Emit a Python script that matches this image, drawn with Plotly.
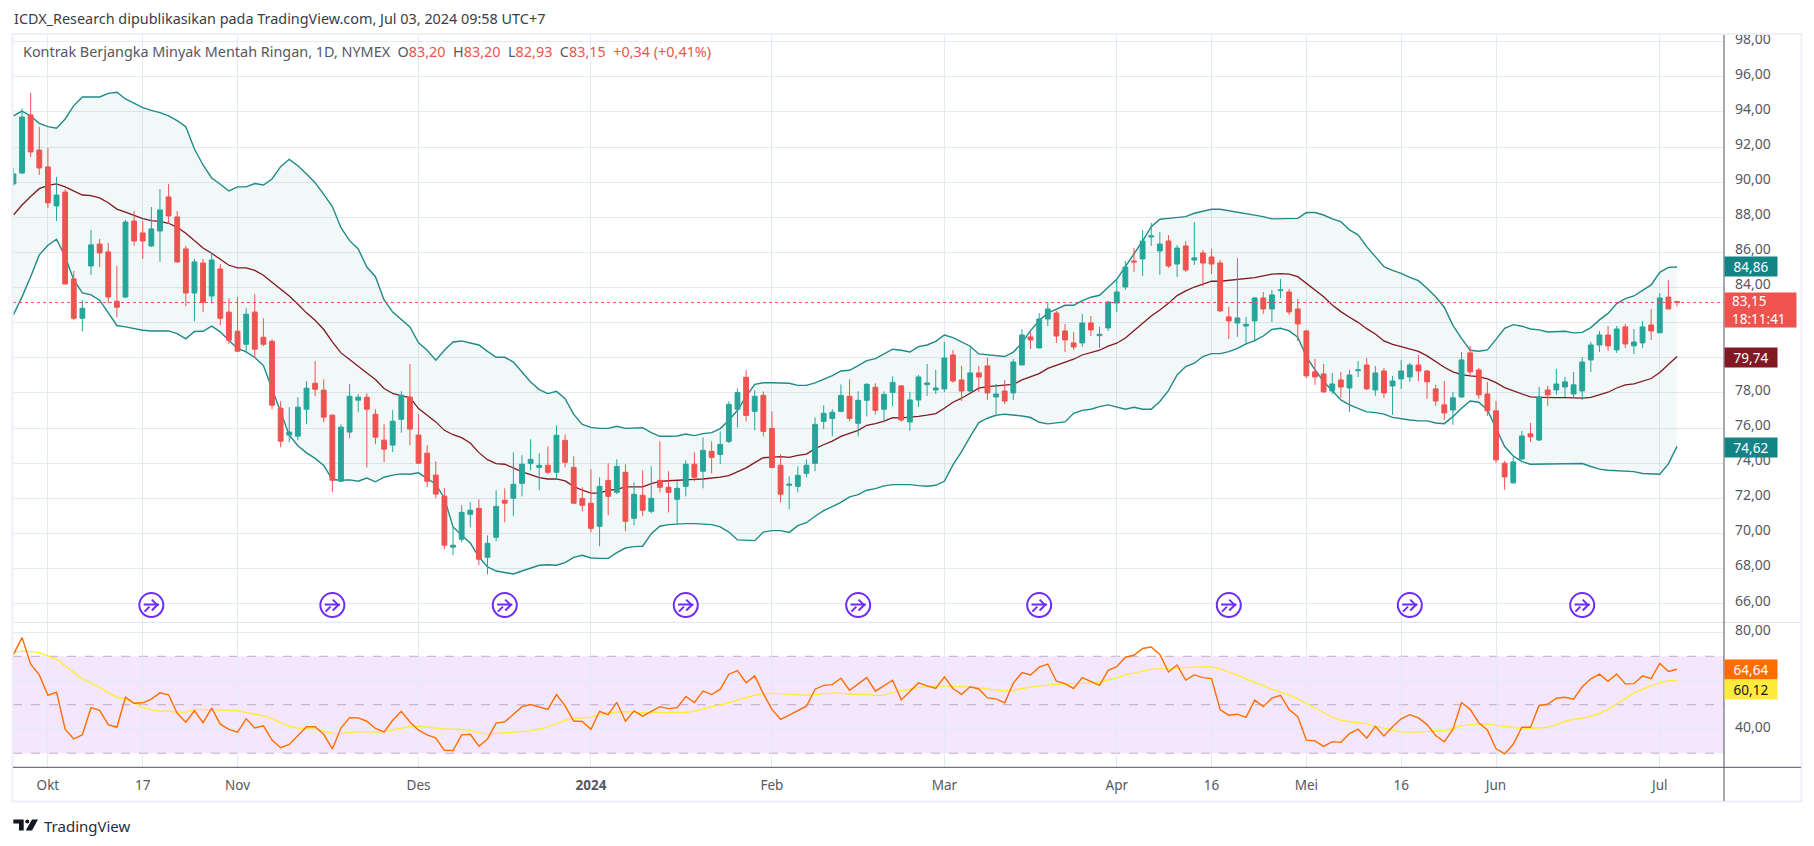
import plotly.graph_objects as go

W = 1814
H = 846

open_ = [
    89.90, 90.52, 93.83, 91.83, 90.87, 88.65, 89.44, 84.49, 82.25, 85.23,
    86.48, 86.03, 83.22, 83.46, 87.79, 87.11, 86.37, 87.22, 89.16, 88.02,
    86.2, 83.69, 85.4, 83.52, 85.06, 82.6, 81.51, 80.77, 82.6, 81.17,
    80.94, 77.13, 75.6, 75.54, 77.07, 78.55, 78.16, 76.73, 72.97, 75.77,
    77.59, 77.76, 76.79, 75.31, 75.03, 76.5, 77.76, 75.6, 74.57, 73.32,
    72.12, 69.22, 69.67, 71.09, 71.43, 68.64, 69.78, 71.89, 72.0, 72.85,
    73.99, 73.76, 73.88, 73.48, 75.3, 73.76, 72.0, 71.72, 70.41, 73.02,
    72.34, 73.48, 70.86, 72.17, 71.26, 73.02, 72.63, 71.94, 72.68, 73.94,
    73.54, 74.68, 74.5, 75.24, 77.07, 78.89, 76.95, 77.86, 75.98, 73.88,
    72.74, 72.68, 73.42, 73.99, 76.38, 76.55, 76.95, 77.81, 76.27, 77.58,
    78.32, 77.07, 78.03, 78.4, 76.35, 77.6, 78.47, 78.17, 78.23, 80.16,
    78.74, 78.11, 79.14, 79.54, 77.77, 78.11, 78.0, 79.59, 81.19, 80.56,
    82.21, 82.55, 81.53, 80.85, 80.85, 81.98, 81.26, 81.7, 83.12, 84.03,
    85.51, 85.63, 86.88, 86.08, 86.65, 85.34, 86.37, 85.57, 85.97, 85.74,
    85.4, 82.33, 81.98, 81.81, 82.1, 83.41, 82.78, 83.83, 83.75, 82.78,
    81.53, 79.2, 79.08, 78.11, 78.74, 78.28, 79.27, 79.59, 78.17, 79.25,
    78.4, 78.8, 78.91, 79.59, 79.25, 78.23, 77.32, 77.03, 77.77, 80.28,
    79.31, 77.94, 76.98, 74.0, 72.88, 74.24, 75.67, 75.32, 78.17, 78.17,
    78.34, 77.94, 78.11, 79.88, 80.73, 81.3, 80.45, 81.76, 80.68, 80.85,
    81.87, 81.42, 83.46, 83.2,
]
high = [
    90.81, 94.2, 95.08, 93.14, 91.95, 90.3, 89.6, 84.94, 83.28, 87.28,
    86.77, 86.54, 85.23, 87.85, 88.36, 87.79, 88.59, 89.61, 89.9, 88.36,
    86.37, 85.63, 85.63, 85.97, 85.34, 83.39, 83.45, 82.82, 83.62, 82.25,
    81.06, 77.53, 77.19, 77.76, 78.67, 79.81, 78.78, 76.79, 76.22, 78.5,
    77.93, 77.98, 77.07, 76.22, 77.02, 78.1, 79.64, 76.79, 75.03, 74.11,
    72.58, 70.36, 71.6, 71.77, 71.94, 69.89, 72.46, 72.57, 74.62, 74.45,
    75.36, 74.56, 74.96, 76.16, 75.64, 74.39, 72.63, 73.65, 73.2, 73.99,
    74.22, 73.94, 72.91, 73.59, 73.82, 75.24, 73.54, 72.97, 74.16, 74.62,
    75.47, 75.24, 75.81, 77.52, 78.26, 79.29, 78.15, 78.09, 76.95, 74.5,
    73.25, 73.82, 74.22, 76.61, 77.29, 77.07, 78.49, 78.77, 78.09, 78.55,
    78.55, 78.09, 78.94, 78.45, 78.06, 79.02, 79.65, 79.31, 80.9, 80.45,
    79.54, 80.68, 79.54, 79.99, 78.51, 78.74, 79.94, 81.64, 81.47, 82.55,
    83.18, 82.67, 81.93, 81.47, 82.5, 82.38, 81.76, 83.24, 84.43, 85.51,
    86.25, 87.28, 87.68, 87.17, 86.99, 86.42, 86.65, 87.73, 86.14, 86.2,
    85.57, 82.9, 85.68, 82.33, 83.46, 83.75, 83.86, 84.49, 83.92, 83.35,
    81.59, 79.94, 79.65, 79.14, 79.2, 79.31, 79.82, 79.99, 79.54, 79.42,
    78.97, 79.88, 79.71, 80.16, 79.31, 78.46, 78.68, 78.06, 80.33, 80.68,
    79.42, 78.63, 77.54, 74.13, 74.36, 75.84, 76.29, 78.34, 78.4, 79.37,
    78.91, 79.2, 80.05, 80.9, 81.53, 81.81, 81.81, 81.93, 81.64, 82.1,
    82.78, 83.69, 84.43, 83.2,
]
low = [
    89.8, 90.47, 91.43, 90.41, 88.53, 87.79, 84.2, 82.14, 81.51, 84.72,
    85.17, 83.11, 82.31, 83.41, 86.37, 85.63, 86.31, 85.46, 87.62, 85.4,
    82.94, 82.08, 82.6, 83.11, 81.86, 80.77, 80.32, 80.26, 80.03, 80.66,
    77.07, 74.91, 75.2, 75.31, 76.22, 77.81, 76.33, 72.35, 72.92, 75.43,
    76.9, 73.75, 75.08, 74.06, 74.63, 75.74, 75.03, 73.94, 72.63, 72.0,
    69.1, 68.76, 69.5, 70.35, 68.19, 67.67, 69.55, 70.63, 70.98, 72.11,
    73.59, 72.46, 73.37, 73.08, 73.76, 71.72, 71.26, 70.06, 69.27, 71.03,
    72.23, 70.12, 70.46, 70.98, 71.15, 72.34, 71.2, 70.52, 72.11, 72.97,
    72.57, 73.42, 73.94, 75.13, 76.04, 76.38, 75.87, 75.53, 73.71, 71.77,
    71.37, 72.34, 73.2, 73.54, 75.93, 75.53, 76.9, 76.38, 75.53, 76.67,
    76.78, 76.33, 77.24, 76.35, 75.84, 77.2, 77.83, 77.94, 78.06, 78.57,
    77.54, 78.06, 78.06, 77.6, 76.8, 77.37, 77.6, 79.59, 80.5, 80.56,
    81.81, 80.85, 80.33, 80.45, 80.62, 81.24, 80.56, 81.53, 82.61, 83.86,
    84.89, 84.66, 86.37, 84.72, 85.12, 84.6, 84.89, 85.29, 84.09, 84.77,
    82.61, 81.07, 81.19, 80.73, 80.9, 82.5, 82.04, 83.41, 82.44, 80.96,
    78.85, 78.46, 78.0, 77.94, 77.72, 76.92, 78.91, 78.17, 77.83, 77.72,
    76.75, 78.23, 78.63, 78.68, 77.66, 77.26, 76.46, 76.18, 77.72, 78.97,
    77.66, 76.69, 74.0, 72.48, 72.82, 74.19, 75.21, 75.27, 77.26, 77.89,
    77.77, 77.77, 77.6, 79.2, 80.33, 80.39, 80.28, 80.56, 80.22, 80.56,
    81.02, 81.42, 82.78, 82.93,
]
close = [
    90.47, 93.71, 91.72, 90.81, 88.82, 89.27, 84.2, 82.25, 82.82, 86.43,
    85.97, 83.46, 82.88, 87.73, 86.65, 86.65, 87.34, 88.42, 88.08, 85.46,
    83.69, 85.46, 83.17, 85.57, 82.25, 81.0, 80.38, 82.48, 80.49, 80.77,
    77.3, 75.25, 75.77, 77.19, 78.27, 78.21, 76.62, 73.03, 76.05, 77.81,
    77.76, 77.07, 75.48, 74.8, 76.39, 77.87, 75.94, 74.0, 72.97, 72.24,
    69.33, 69.33, 71.2, 71.32, 68.53, 69.44, 71.54, 71.72, 72.8, 73.94,
    74.22, 73.88, 73.48, 75.59, 74.05, 71.72, 71.6, 70.29, 72.68, 72.11,
    73.82, 70.69, 72.23, 71.32, 72.0, 72.63, 72.34, 72.57, 73.94, 73.2,
    74.73, 74.33, 75.07, 77.35, 78.03, 76.72, 77.81, 75.81, 73.76, 72.23,
    72.8, 73.31, 73.88, 76.21, 76.84, 76.9, 77.86, 76.55, 77.58, 78.49,
    77.01, 77.92, 78.6, 76.46, 77.6, 78.91, 78.57, 78.28, 79.99, 78.68,
    78.11, 79.14, 78.91, 78.0, 77.94, 77.54, 79.76, 81.3, 81.02, 82.21,
    82.78, 81.24, 81.02, 80.62, 81.98, 81.59, 81.34, 83.18, 83.75, 85.17,
    85.46, 86.65, 86.94, 86.48, 85.23, 86.25, 85.0, 85.69, 85.4, 85.34,
    82.67, 82.1, 82.27, 81.91, 83.41, 82.78, 83.58, 83.86, 82.61, 81.93,
    78.97, 78.91, 78.06, 78.51, 78.34, 79.02, 79.31, 78.23, 79.14, 78.0,
    78.68, 79.25, 79.59, 79.25, 78.63, 77.54, 76.86, 77.72, 79.88, 79.2,
    77.89, 76.98, 74.19, 73.22, 74.07, 75.55, 75.5, 77.77, 77.89, 78.51,
    78.63, 78.46, 79.76, 80.73, 81.3, 80.68, 81.64, 80.79, 80.9, 81.76,
    81.53, 83.41, 82.78, 83.15,
]

# Bollinger bands
bb_upper = [
    93.77, 94.05, 93.77, 93.35, 93.16, 93.07, 93.6, 94.36, 94.85, 94.85,
    94.85, 95.06, 95.12, 94.74, 94.49, 94.24, 94.09, 93.96, 93.77, 93.5,
    93.16, 91.89, 90.98, 90.24, 89.88, 89.5, 89.73, 89.73, 89.92, 89.84,
    90.18, 90.88, 91.3, 90.94, 90.47, 89.97, 89.31, 88.61, 87.41, 86.67,
    86.2, 85.17, 84.62, 83.29, 82.6, 82.18, 81.76, 80.85, 80.43, 79.86,
    80.43, 80.9, 80.96, 80.84, 80.73, 80.37, 80.03, 80.03, 79.76, 79.19,
    78.62, 78.19, 77.96, 78.09, 77.67, 76.78, 76.21, 76.04, 75.98, 75.98,
    76.1, 75.98, 76.02, 76.02, 75.74, 75.53, 75.53, 75.55, 75.66, 75.57,
    75.68, 75.74, 75.97, 76.44, 77.01, 77.81, 78.49, 78.58, 78.58, 78.58,
    78.55, 78.43, 78.43, 78.57, 78.77, 78.98, 79.25, 79.29, 79.55, 79.84,
    79.95, 80.2, 80.49, 80.43, 80.33, 80.64, 80.73, 80.94, 81.3, 81.15,
    80.9, 80.66, 80.22, 80.16, 80.13, 80.07, 80.32, 80.85, 81.55, 82.12,
    82.54, 82.76, 82.99, 82.99, 83.26, 83.45, 83.56, 84.02, 84.47, 85.19,
    85.91, 86.65, 87.47, 87.89, 87.94, 88.0, 88.04, 88.23, 88.34, 88.46,
    88.46, 88.38, 88.32, 88.21, 88.15, 88.04, 87.91, 87.91, 87.92, 87.94,
    88.27, 88.27, 88.13, 87.91, 87.75, 87.28, 87.0, 86.33, 85.76, 85.19,
    84.98, 84.81, 84.58, 84.39, 83.96, 83.48, 82.88, 81.85, 81.11, 80.43,
    80.37, 80.45, 81.05, 81.68, 81.89, 81.8, 81.64, 81.59, 81.47, 81.51,
    81.51, 81.42, 81.45, 81.72, 82.16, 82.53, 83.09, 83.37, 83.52, 83.84,
    84.15, 84.87, 85.15, 85.17,
]
bb_mid = [
    88.13, 88.7, 89.18, 89.63, 89.82, 89.9, 89.73, 89.5, 89.27, 89.23,
    89.1, 88.83, 88.47, 88.3, 88.13, 87.92, 87.81, 87.77, 87.66, 87.43,
    87.09, 86.65, 86.25, 85.95, 85.63, 85.27, 85.12, 85.12, 84.98, 84.7,
    84.3, 83.9, 83.52, 83.05, 82.56, 82.14, 81.61, 80.91, 80.28, 79.9,
    79.54, 79.14, 78.76, 78.25, 77.97, 77.83, 77.74, 77.11, 76.73, 76.35,
    75.87, 75.62, 75.45, 75.15, 74.6, 74.2, 73.97, 73.94, 73.73, 73.5,
    73.35, 73.18, 73.1, 73.1, 72.99, 72.68, 72.46, 72.3, 72.3, 72.46,
    72.51, 72.65, 72.65, 72.65, 72.84, 72.97, 73.0, 73.04, 73.08, 73.08,
    73.1, 73.14, 73.21, 73.29, 73.5, 73.73, 74.03, 74.31, 74.35, 74.37,
    74.33, 74.45, 74.52, 74.83, 75.05, 75.26, 75.53, 75.68, 75.87, 76.16,
    76.25, 76.4, 76.59, 76.58, 76.61, 76.67, 76.73, 76.82, 77.13, 77.47,
    77.7, 77.98, 78.27, 78.36, 78.4, 78.42, 78.49, 78.74, 78.93, 79.1,
    79.4, 79.57, 79.71, 79.92, 80.16, 80.3, 80.43, 80.66, 80.83, 81.13,
    81.55, 81.97, 82.38, 82.72, 83.1, 83.54, 83.81, 84.03, 84.2, 84.36,
    84.36, 84.41, 84.47, 84.51, 84.57, 84.66, 84.76, 84.79, 84.76, 84.62,
    84.24, 83.9, 83.48, 83.01, 82.63, 82.31, 82.02, 81.66, 81.36, 80.96,
    80.77, 80.64, 80.52, 80.37, 80.11, 79.78, 79.46, 79.2, 79.04, 78.97,
    78.93, 78.8, 78.59, 78.3, 78.11, 77.92, 77.77, 77.75, 77.72, 77.73,
    77.73, 77.7, 77.7, 77.75, 77.89, 78.04, 78.28, 78.46, 78.51, 78.65,
    78.82, 79.16, 79.59, 80.07,
]
bb_lower = [
    82.46, 83.47, 84.62, 85.86, 86.41, 86.75, 85.76, 84.43, 83.7, 83.58,
    83.28, 82.56, 81.84, 81.76, 81.65, 81.57, 81.53, 81.53, 81.53, 81.38,
    81.08, 81.5, 81.51, 81.8, 81.48, 80.99, 80.53, 80.34, 80.02, 79.56,
    78.25, 76.92, 75.59, 74.99, 74.59, 74.27, 73.87, 73.07, 73.03, 73.05,
    72.97, 73.15, 72.94, 73.2, 73.32, 73.39, 73.37, 73.45, 73.1, 72.8,
    71.99, 70.37, 69.89, 69.46, 68.66, 68.09, 67.86, 67.77, 67.69, 67.86,
    68.03, 68.19, 68.22, 68.19, 68.34, 68.64, 68.76, 68.6, 68.58, 68.58,
    68.91, 69.17, 69.25, 69.27, 69.99, 70.41, 70.5, 70.54, 70.56, 70.56,
    70.52, 70.5, 70.37, 70.08, 69.63, 69.63, 69.59, 70.08, 70.16, 70.16,
    70.06, 70.44, 70.61, 70.98, 71.3, 71.53, 71.77, 72.08, 72.21, 72.46,
    72.55, 72.71, 72.78, 72.78, 72.78, 72.72, 72.69, 72.74, 72.97, 73.9,
    74.66, 75.51, 76.31, 76.56, 76.73, 76.79, 76.75, 76.69, 76.6, 76.33,
    76.24, 76.29, 76.35, 76.84, 77.01, 77.07, 77.22, 77.32, 77.2, 77.07,
    77.18, 77.07, 77.07, 77.51, 78.13, 79.02, 79.5, 79.69, 80.07, 80.24,
    80.24, 80.35, 80.54, 80.79, 80.98, 81.24, 81.61, 81.68, 81.53, 81.17,
    80.07, 79.31, 78.65, 78.13, 77.6, 77.32, 77.13, 76.92, 76.88, 76.79,
    76.61, 76.52, 76.46, 76.41, 76.41, 76.29, 76.25, 76.65, 77.13, 77.54,
    77.47, 77.03, 75.99, 74.95, 74.41, 74.09, 73.94, 73.94, 73.96, 73.98,
    73.98, 73.98, 73.98, 73.81, 73.66, 73.6, 73.56, 73.56, 73.52, 73.41,
    73.41, 73.37, 73.96, 74.96,
]

# RSI pane
rsi = [
    70.8, 77.7, 66.7, 62.3, 53.9, 55.2, 39.9, 35.9, 37.6, 48.8,
    47.7, 41.8, 40.7, 53.1, 50.6, 50.8, 52.3, 54.9, 54.1, 46.5,
    42.8, 47.5, 42.6, 48.6, 42.0, 39.8, 38.7, 44.2, 40.4, 41.3,
    35.4, 32.3, 33.6, 37.4, 40.9, 40.9, 37.8, 31.8, 40.4, 44.7,
    44.6, 43.2, 40.2, 38.8, 43.6, 47.3, 42.9, 39.5, 37.6, 36.2,
    31.2, 31.1, 37.6, 37.8, 32.9, 35.9, 42.4, 42.9, 46.2, 49.2,
    50.1, 49.1, 48.1, 54.2, 49.5, 43.3, 43.1, 39.9, 47.3,
    45.9, 51.0, 43.2, 47.5, 45.3, 47.3, 49.2, 48.4, 48.8, 53.4,
    50.9, 55.6, 54.2, 56.4, 62.6, 64.1, 59.1, 61.9, 54.6, 48.1,
    44.0, 45.7, 47.5, 49.4, 56.4, 58.0, 58.3, 60.9, 56.0, 58.7,
    61.2, 55.6, 58.0, 60.1, 52.0, 55.6, 59.0, 57.8, 56.7, 61.5,
    56.7, 54.3, 57.4, 56.5, 52.8, 52.4, 50.8, 58.9, 63.3, 62.3,
    65.5, 66.8, 59.7, 58.7, 56.7, 61.2, 59.6, 58.0, 64.2, 65.7,
    69.6, 70.4, 73.2, 73.8, 70.7, 63.5, 66.4, 60.2, 62.3,
    61.2, 60.8, 47.9, 45.7, 46.1, 44.8, 51.9, 49.2, 52.7, 53.9,
    48.0, 45.1, 35.4, 35.1, 32.8, 34.8, 34.5, 38.1, 39.9, 36.2,
    41.1, 37.1, 40.9, 44.2, 45.9, 44.6, 41.8, 37.3, 34.7, 39.9,
    50.9, 48.1, 42.6, 39.6, 31.8, 29.7, 33.7, 40.7, 40.7, 49.7,
    50.2, 52.7, 53.1, 52.3, 57.4, 60.7, 62.6, 59.7, 62.7, 58.6,
    58.7, 61.9, 60.8, 67.1, 63.7, 64.64,
]
rsi_ma = [
    71.5, 72.2, 71.9, 71.5, 70.1, 68.8, 66.0, 63.3, 60.7, 58.9,
    57.2, 55.0, 53.1, 52.3, 50.6, 48.8, 47.9, 47.3, 47.3, 46.9,
    47.0, 47.9, 48.1, 48.0, 47.7, 47.6, 47.5, 46.8, 46.1, 45.4,
    44.2, 42.5, 41.1, 40.4, 40.2, 39.9, 39.2, 38.1, 38.2, 38.7,
    38.9, 38.8, 38.8, 38.8, 39.6, 40.4, 41.0, 41.1, 40.9, 40.4,
    40.0, 40.0, 39.8, 39.5, 38.5, 38.0, 38.2, 38.4, 38.7, 38.8,
    39.2, 40.0, 40.9, 42.2, 43.6, 44.3, 44.6, 44.8, 46.1,
    46.6, 47.0, 47.2, 47.0, 46.6, 46.8, 46.8, 46.6, 46.5, 46.8,
    47.3, 48.3, 49.2, 49.9, 50.9, 52.0, 53.0, 53.9, 54.6, 54.8,
    54.5, 54.2, 54.2, 53.9, 54.2, 54.5, 54.9, 54.8, 54.3, 54.2,
    54.2, 53.8, 53.9, 55.2, 55.7, 56.4, 57.1, 57.6, 57.8, 57.8,
    57.6, 57.5, 57.2, 57.0, 56.5, 56.1, 55.7, 56.1, 56.8, 57.2,
    57.8, 58.3, 58.5, 58.5, 58.6, 59.0, 59.0, 59.3, 60.1, 61.1,
    62.3, 63.1, 64.0, 64.6, 64.8, 64.8, 65.1, 65.3, 65.6,
    65.7, 65.6, 64.8, 63.5, 62.3, 60.7, 59.4, 57.9, 56.4, 55.3,
    54.1, 52.4, 50.6, 48.6, 46.8, 44.8, 43.6, 43.1, 42.6, 42.1,
    41.1, 40.3, 39.5, 38.8, 38.7, 38.7, 38.9, 39.3, 39.3, 40.2,
    41.3, 41.8, 42.0, 42.1, 41.5, 41.0, 40.4, 40.2, 40.2, 40.3,
    40.7, 41.8, 43.2, 44.0, 44.4, 45.3, 46.5, 48.1, 50.3, 52.7,
    54.8, 56.3, 57.9, 59.0, 59.8, 60.12,
]

# bars with an economic-event marker, and the level they sit at
event_bars = [16, 37, 57, 78, 98, 119, 141, 162, 182]
event_level = [65.92] * len(event_bars)

grid_ticks = [66, 68, 70, 72, 74, 76, 78, 80, 82, 84, 86, 88, 90, 92, 94, 96, 98]
# 80 and 82 are hidden behind the value tags on the scale
price_ticks = [66, 68, 70, 72, 74, 76, 78, 84, 86, 88, 90, 92, 94, 96, 98]
price_labels = [f"{v},00" for v in price_ticks]
rsi_grid = [40, 60, 80]
rsi_ticks = [40, 80]
rsi_labels = ["40,00", "80,00"]
date_bars = [4, 15, 26, 47, 67, 88, 108, 128, 139, 150, 161, 172, 191]
date_labels = ["Okt", "17", "Nov", "Des", "<b>2024</b>", "Feb", "Mar", "Apr", "16", "Mei", "16", "Jun", "Jul"]

GREEN = "#26a69a"
RED = "#ef5350"
TEAL = "#1f8a87"
MAROON = "#801922"
PURPLE = "#6e2bff"
GRID = "#e1ebf1"
TEXT = "#555862"
FONT = "Noto Sans"


def px_x(x):
    return x / W


def px_y(y):
    return 1 - y / H


def badge_part(symbol, size, dx, dy):
    # one stroke of the event badge, offset from its centre in bars / price
    return go.Scatter(x=[b + dx for b in event_bars], y=[v + dy for v in event_level], yaxis="y3",
                      mode="markers", hoverinfo="skip",
                      marker=dict(symbol=symbol, size=size, color=PURPLE, line=dict(color=PURPLE, width=2)))


bars = list(range(len(close)))

fig = go.Figure()

fig.add_trace(go.Scatter(x=bars, y=bb_upper, mode="lines", line=dict(color=TEAL, width=1.4), hoverinfo="skip"))
fig.add_trace(go.Scatter(x=bars, y=bb_lower, mode="lines", line=dict(color=TEAL, width=1.4), hoverinfo="skip",
                         fill="tonexty", fillcolor="rgba(38,140,140,0.06)"))
fig.add_trace(go.Scatter(x=bars, y=bb_mid, mode="lines", line=dict(color=MAROON, width=1.3), hoverinfo="skip"))

# candles go on an overlaying axis so they are drawn over the bands
fig.add_trace(go.Candlestick(
    x=bars, open=open_, high=high, low=low, close=close, yaxis="y3",
    increasing=dict(line=dict(color=GREEN, width=1), fillcolor=GREEN),
    decreasing=dict(line=dict(color=RED, width=1), fillcolor=RED),
    whiskerwidth=0, hoverinfo="skip",
))

fig.add_trace(go.Scatter(x=event_bars, y=event_level, yaxis="y3", mode="markers", hoverinfo="skip",
                         marker=dict(symbol="circle", size=24, color="white", line=dict(color=PURPLE, width=2))))
fig.add_trace(badge_part("line-ew-open", 11, 0, 0.03))
fig.add_trace(badge_part("line-nw-open", 6, 0.4, 0.14))
fig.add_trace(badge_part("line-ne-open", 6, 0.4, -0.14))
fig.add_trace(badge_part("line-ne-open", 5, -0.5, -0.23))

fig.add_trace(go.Scatter(x=bars, y=rsi_ma, xaxis="x2", yaxis="y2", mode="lines", hoverinfo="skip",
                         line=dict(color="#ffeb3b", width=1.4)))
fig.add_trace(go.Scatter(x=bars, y=rsi, xaxis="x2", yaxis="y2", mode="lines", hoverinfo="skip",
                         line=dict(color="#ff6d00", width=1.4)))

# empty traces so that the two label axes get drawn
fig.add_trace(go.Scatter(x=[None], y=[None], yaxis="y4", hoverinfo="skip"))
fig.add_trace(go.Scatter(x=[None], y=[None], xaxis="x2", yaxis="y5", hoverinfo="skip"))

x_range = [-0.05, 198.45]
x_domain = [px_x(13), px_x(1724)]
price_range = [64.94, 98.38]
rsi_range = [24.2, 84]

shapes = [
    # rsi band and its dashed levels
    dict(type="rect", xref="x2", yref="y2", x0=x_range[0], x1=x_range[1], y0=30, y1=70,
         fillcolor="rgba(163,55,238,0.12)", line_width=0, layer="below"),
]
for level in (70, 50, 30):
    shapes.append(dict(type="line", xref="paper", yref="y2", x0=x_domain[0], x1=x_domain[1], y0=level, y1=level,
                       line=dict(color="#bdb8c4", width=1, dash="dash"), layer="below"))
shapes += [
    # last price
    dict(type="line", xref="paper", yref="y", x0=x_domain[0], x1=x_domain[1], y0=close[-1], y1=close[-1],
         line=dict(color=RED, width=1, dash="dot")),
    # pane separator, frame and axis lines
    dict(type="line", xref="paper", yref="paper", x0=px_x(13), x1=px_x(1801), y0=px_y(622.3), y1=px_y(622.3),
         line=dict(color="#e0e3eb", width=1)),
    dict(type="rect", xref="paper", yref="paper", x0=px_x(12.5), x1=px_x(1801.5), y0=px_y(801.5), y1=px_y(34),
         line=dict(color="#eef0f5", width=2), fillcolor="rgba(0,0,0,0)"),
    dict(type="line", xref="paper", yref="paper", x0=px_x(1724), x1=px_x(1724), y0=px_y(801), y1=px_y(35),
         line=dict(color="#50535e", width=1)),
    dict(type="line", xref="paper", yref="paper", x0=px_x(13), x1=px_x(1801), y0=px_y(767.3), y1=px_y(767.3),
         line=dict(color="#50535e", width=1)),
    # logo
    dict(type="path", xref="paper", yref="paper", fillcolor="#131722", line_width=0,
         path=f"M {px_x(13.3)} {px_y(819.5)} L {px_x(23.7)} {px_y(819.5)} L {px_x(23.7)} {px_y(830.5)} "
              f"L {px_x(19)} {px_y(830.5)} L {px_x(19)} {px_y(823.5)} L {px_x(13.3)} {px_y(823.5)} Z"),
    dict(type="circle", xref="paper", yref="paper", fillcolor="#131722", line_width=0,
         x0=px_x(25.3), x1=px_x(29.3), y0=px_y(823.5), y1=px_y(819.5)),
    dict(type="path", xref="paper", yref="paper", fillcolor="#131722", line_width=0,
         path=f"M {px_x(32)} {px_y(819.5)} L {px_x(38)} {px_y(819.5)} L {px_x(32)} {px_y(830.5)} "
              f"L {px_x(25.7)} {px_y(830.5)} Z"),
]

annotations = [
    dict(text="ICDX_Research dipublikasikan pada TradingView.com, Jul 03, 2024 09:58 UTC+7",
         x=px_x(12), y=px_y(19), font=dict(size=14.4, color="#3a3d47")),
    dict(text="Kontrak Berjangka Minyak Mentah Ringan, 1D, NYMEX\u00a0\u00a0O"
              f"<span style='color:{RED}'>83,20</span>\u00a0\u00a0H<span style='color:{RED}'>83,20</span>\u00a0\u00a0"
              f"L<span style='color:{RED}'>82,93</span>\u00a0\u00a0C<span style='color:{RED}'>83,15</span>\u00a0\u00a0"
              f"<span style='color:{RED}'>+0,34 (+0,41%)</span>",
         x=px_x(21), y=px_y(52), font=dict(size=14.4, color=TEXT)),
    dict(text="TradingView", x=px_x(41.5), y=px_y(825.5), font=dict(size=15, color="#2a2e39")),
]
for a in annotations:
    a.update(xref="paper", yref="paper", xanchor="left", yanchor="middle", showarrow=False)

# value tags on the price scale
for text, y, height, bg, fg in [
    ("84,86", 267, 19, "#138484", "white"),
    ("\u00a0\u00a083,15<br>\u00a0\u00a018:11:41", 310, 34, RED, "white"),
    ("79,74", 357.7, 19, MAROON, "white"),
    ("74,62", 447.7, 19, "#138484", "white"),
    ("64,64", 669.5, 19, "#ff6d00", "white"),
    ("60,12", 689.5, 19, "#ffeb3b", "#131722"),
]:
    two_lines = "<br>" in text
    annotations.append(dict(
        text=text, xref="paper", yref="paper", x=px_x(1724), y=px_y(y), xanchor="left", yanchor="middle",
        width=71 if two_lines else 52, height=height, bgcolor=bg, borderpad=0, showarrow=False,
        align="left" if two_lines else "center", font=dict(size=13.5, color=fg),
    ))

tick_font = dict(size=14, color=TEXT)

fig.update_layout(
    width=W, height=H, autosize=False,
    margin=dict(l=0, r=0, t=0, b=0, autoexpand=False),
    paper_bgcolor="white", plot_bgcolor="white",
    showlegend=False, hovermode=False,
    font=dict(family=FONT, size=13, color=TEXT),
    boxgap=0.2,
    shapes=shapes, annotations=annotations,
    xaxis=dict(domain=x_domain, range=x_range, anchor="y", tickvals=date_bars, showticklabels=False,
               showgrid=True, gridcolor=GRID, gridwidth=1, zeroline=False, rangeslider=dict(visible=False)),
    xaxis2=dict(domain=x_domain, range=x_range, anchor="y2", tickvals=date_bars, ticktext=date_labels,
                showgrid=True, gridcolor=GRID, gridwidth=1, zeroline=False, ticks="", ticklabelstandoff=8,
                tickfont=dict(size=13.5, color=TEXT)),
    yaxis=dict(domain=[px_y(622.3), px_y(35)], range=price_range, anchor="x", side="right",
               tickvals=grid_ticks, showticklabels=False, showgrid=True, gridcolor=GRID, gridwidth=1,
               zeroline=False, ticks=""),
    yaxis3=dict(domain=[px_y(622.3), px_y(35)], range=price_range, overlaying="y", anchor="x", visible=False),
    # label axes: same scale as the panes, nudged so the text sits just above its grid line
    yaxis4=dict(domain=[px_y(622.3), px_y(35)], range=[price_range[0] - 0.17, price_range[1] - 0.17],
                overlaying="y", anchor="x", side="right", tickvals=price_ticks, ticktext=price_labels,
                showgrid=False, zeroline=False, ticks="", ticklabelstandoff=10, tickfont=tick_font),
    yaxis2=dict(domain=[px_y(767.3), px_y(622.3)], range=rsi_range, anchor="x2", side="right",
                tickvals=rsi_grid, showticklabels=False, showgrid=True, gridcolor=GRID, gridwidth=1,
                zeroline=False, ticks=""),
    yaxis5=dict(domain=[px_y(767.3), px_y(622.3)], range=[rsi_range[0] - 0.8, rsi_range[1] - 0.8],
                overlaying="y2", anchor="x2", side="right", tickvals=rsi_ticks, ticktext=rsi_labels,
                showgrid=False, zeroline=False, ticks="", ticklabelstandoff=10, tickfont=tick_font),
)

fig.write_html("out.html", config={"displayModeBar": False}, post_script="document.body.style.margin='0';")
